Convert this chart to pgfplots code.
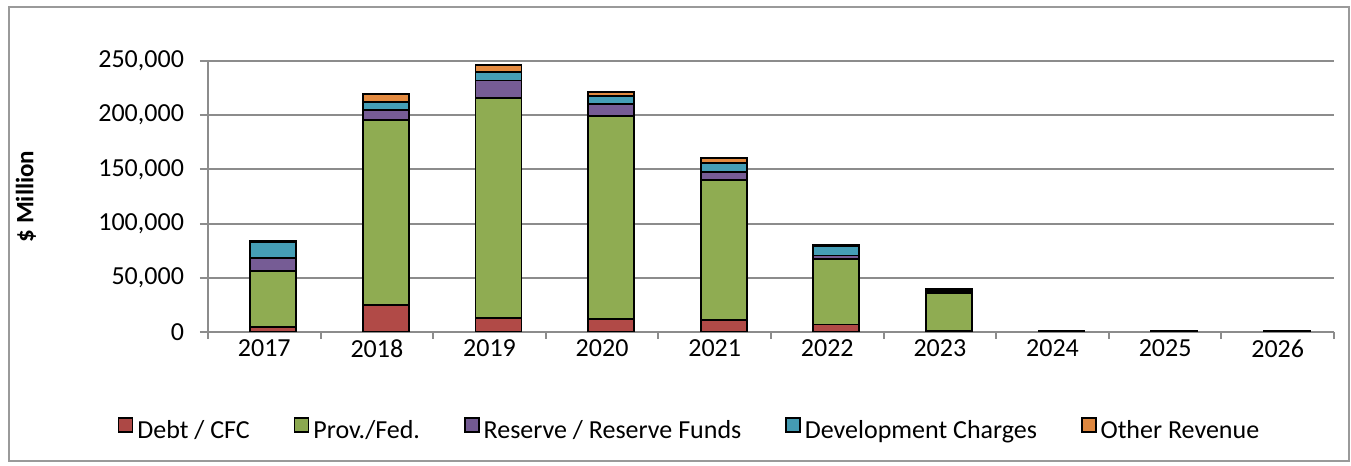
\documentclass[border=0pt]{standalone}
\usepackage{pgfplots}
\pgfplotsset{compat=1.18}
\usepackage{pgfplotstable}
\usepackage{fontspec}
\setmainfont{Carlito}

\definecolor{debt}{HTML}{C0504D}
\definecolor{prov}{HTML}{9BBB59}
\definecolor{resv}{HTML}{8064A2}
\definecolor{devc}{HTML}{4BACC6}
\definecolor{othr}{HTML}{F79646}
\definecolor{gridgray}{HTML}{8C8C8C}
\definecolor{framegray}{HTML}{9A9A9A}

% funding by year (2017 = 0), $ Million
\pgfplotstableread{
x debt prov resv devc othr
0 4500 52000 12000 14500 1000
1 25000 170500 9500 7500 7000
2 13000 203000 16000 7500 7000
3 12000 187500 11000 7000 4000
4 11000 129000 7500 8500 4500
5 7000 60500 3000 8500 1500
6 1000 34500 1500 1500 1500
7 300 700 0 0 0
8 300 700 0 0 0
9 300 700 0 0 0
}\funding

\pgfplotsset{
  cyl/.style={draw=black, line width=0.9pt, fill=#1!92!black, bar shift=4.5pt},
  legsq/.style={legend image code/.code={%
    \draw[draw=black, line width=0.8pt, ##1] (0pt,-0.5pt) rectangle (7pt,6.5pt);},
    fill=#1!90!black},
}

\begin{document}
\begin{tikzpicture}
\path[use as bounding box] (0,0) rectangle (675.5pt,233pt);
\draw[framegray, line width=0.8pt] (4.5pt,2.5pt) rectangle (674.5pt,229.5pt);
\begin{axis}[
  at={(104pt,67pt)}, anchor=south west,
  scale only axis, width=563pt, height=135.5pt,
  xmin=-0.5, xmax=9.5, ymin=0, ymax=250000,
  ybar stacked, bar width=23pt,
  axis lines*=left,
  axis line style={gridgray, line width=1pt},
  tick align=outside,
  xtick={0,...,9},
  xticklabels={2017,2018,2019,2020,2021,2022,2023,2024,2025,2026},
  minor xtick={-0.5,0.5,...,9.5},
  major x tick style={draw=none},
  minor x tick style={gridgray, line width=1pt},
  minor tick length=3.5pt,
  ytick={0,50000,100000,150000,200000,250000},
  yticklabels={0,{50,000},{100,000},{150,000},{200,000},{250,000}},
  scaled y ticks=false,
  major y tick style={gridgray, line width=1pt},
  major tick length=4pt,
  ymajorgrids,
  major grid style={gridgray, line width=1pt},
  tick label style={font=\fontsize{13}{15}\selectfont},
  xticklabel style={yshift=3.5pt},
  yticklabel style={xshift=-4.5pt},
  /pgf/number format/assume math mode=true,
  ylabel={\$ Million},
  every axis y label/.style={at={(axis description cs:-0.1616,0.5)},
    rotate=90, anchor=center, font=\fontsize{12.5}{15}\selectfont\bfseries},
  legend columns=5,
  legend style={at={(0.4285,-0.365)}, anchor=center, draw=none,
    font=\fontsize{13}{15}\selectfont,
    /tikz/every odd column/.append style={column sep=0pt},
    /tikz/every even column/.append style={column sep=20pt}},
]
\addplot[cyl=debt, forget plot] table[x=x, y=debt] {\funding};
\addplot[cyl=prov, forget plot] table[x=x, y=prov] {\funding};
\addplot[cyl=resv, forget plot] table[x=x, y=resv] {\funding};
\addplot[cyl=devc, forget plot] table[x=x, y=devc] {\funding};
\addplot[cyl=othr, forget plot] table[x=x, y=othr] {\funding};
\addlegendimage{legsq=debt}
\addlegendentry{Debt / CFC}
\addlegendimage{legsq=prov}
\addlegendentry{Prov./Fed.}
\addlegendimage{legsq=resv}
\addlegendentry{Reserve / Reserve Funds}
\addlegendimage{legsq=devc}
\addlegendentry{Development Charges}
\addlegendimage{legsq=othr}
\addlegendentry{Other Revenue}
\end{axis}
\end{tikzpicture}
\end{document}
